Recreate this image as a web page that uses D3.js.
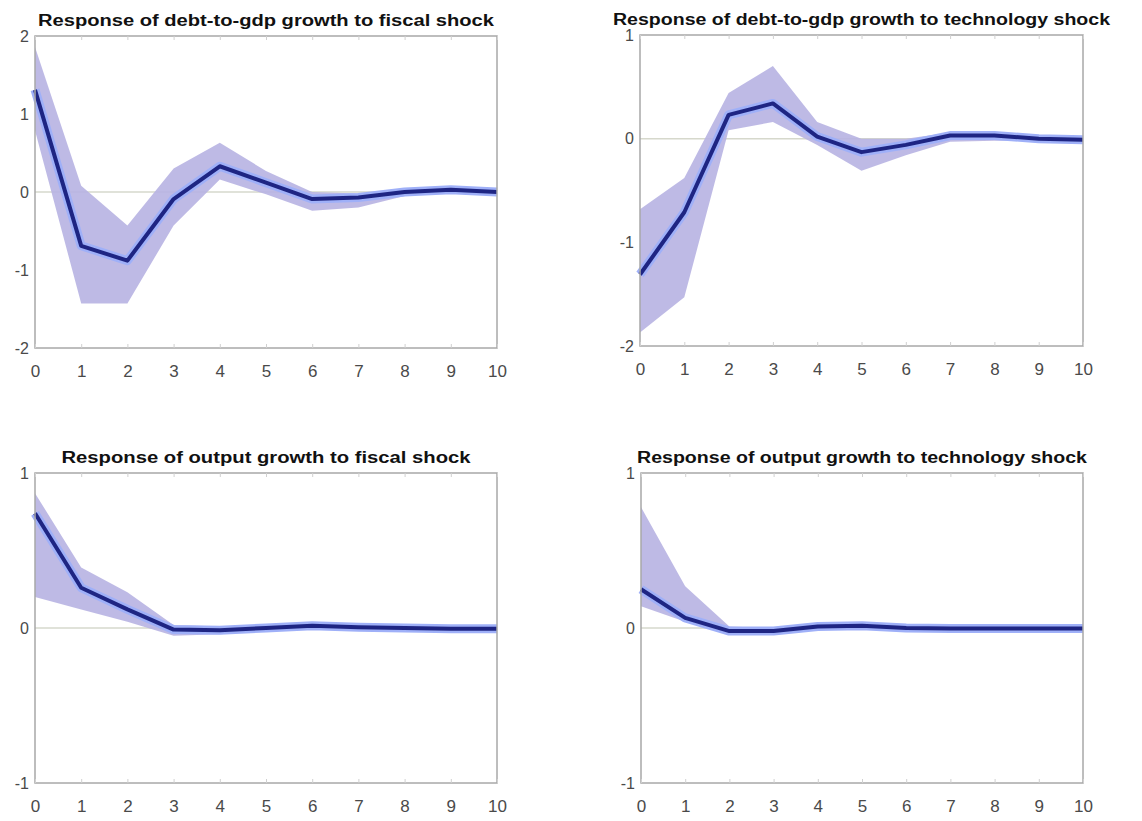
<!DOCTYPE html>
<html>
<head>
<meta charset="utf-8">
<script src="https://cdn.jsdelivr.net/npm/d3@7"></script>
<style>
  body { margin: 0; background: #fff; }
  svg { display: block; }
</style>
</head>
<body>
<script>
// horizons on the x axis
var horizons = [0, 1, 2, 3, 4, 5, 6, 7, 8, 9, 10];

// debt-to-gdp growth, fiscal shock
var debtFiscalMed = [1.31, -0.69, -0.88, -0.09, 0.33, 0.12, -0.09, -0.07, 0.0, 0.03, 0.0];
var debtFiscalHi  = [1.86, 0.08, -0.43, 0.30, 0.63, 0.27, 0.0, -0.02, 0.02, 0.04, 0.01];
var debtFiscalLo  = [0.79, -1.43, -1.43, -0.43, 0.16, -0.03, -0.24, -0.20, -0.05, -0.01, -0.01];

// debt-to-gdp growth, technology shock
var debtTechMed = [-1.31, -0.71, 0.23, 0.34, 0.02, -0.13, -0.06, 0.03, 0.03, 0.0, -0.01];
var debtTechHi  = [-0.68, -0.38, 0.44, 0.70, 0.16, 0.0, 0.0, 0.06, 0.06, 0.02, 0.0];
var debtTechLo  = [-1.87, -1.53, 0.08, 0.16, -0.06, -0.31, -0.16, -0.03, -0.02, -0.02, -0.02];

// output growth, fiscal shock
var outFiscalMed = [0.74, 0.26, 0.12, -0.01, -0.015, 0.0, 0.015, 0.005, 0.0, -0.005, -0.005];
var outFiscalHi  = [0.87, 0.39, 0.23, 0.02, 0.01, 0.02, 0.025, 0.01, 0.005, 0.0, 0.0];
var outFiscalLo  = [0.20, 0.12, 0.04, -0.05, -0.04, -0.02, 0.0, -0.005, -0.01, -0.01, -0.01];

// output growth, technology shock
var outTechMed = [0.25, 0.065, -0.02, -0.02, 0.01, 0.015, 0.0, -0.003, -0.003, -0.003, -0.003];
var outTechHi  = [0.78, 0.27, 0.01, 0.0, 0.025, 0.03, 0.01, 0.0, 0.0, 0.0, 0.0];
var outTechLo  = [0.14, 0.04, -0.04, -0.03, -0.005, 0.0, -0.01, -0.01, -0.01, -0.01, -0.01];

var titles = [
    "Response of debt-to-gdp growth to fiscal shock",
    "Response of debt-to-gdp growth to technology shock",
    "Response of output growth to fiscal shock",
    "Response of output growth to technology shock"
];
var yDomains = [[-2, 2], [-2, 1], [-1, 1], [-1, 1]];
var yTickVals = [[-2, -1, 0, 1, 2], [-2, -1, 0, 1], [-1, 0, 1], [-1, 0, 1]];

var panels = [
    {med: debtFiscalMed, hi: debtFiscalHi, lo: debtFiscalLo, box: [35, 497, 36, 348], titleW: 456},
    {med: debtTechMed, hi: debtTechHi, lo: debtTechLo, box: [640, 1083, 35, 346], titleW: 497},
    {med: outFiscalMed, hi: outFiscalHi, lo: outFiscalLo, box: [35, 497, 473, 783], titleW: 409},
    {med: outTechMed, hi: outTechHi, lo: outTechLo, box: [641, 1083, 473, 783], titleW: 450}
];

var tickFont = "Liberation Sans, Arial, sans-serif";

var svg = d3.select("body").append("svg")
    .attr("width", 1142)
    .attr("height", 821);

panels.forEach(function (p, k) {
    var left = p.box[0], right = p.box[1], top = p.box[2], bottom = p.box[3];

    var x = d3.scaleLinear().domain([0, 10]).range([left, right]);
    var y = d3.scaleLinear().domain(yDomains[k]).range([bottom, top]);

    var g = svg.append("g");

    // zero line
    g.append("line")
        .attr("x1", left).attr("x2", right)
        .attr("y1", y(0)).attr("y2", y(0))
        .attr("stroke", "#d6d8cc")
        .attr("stroke-width", 1.5);

    var rows = horizons.map(function (h, i) {
        return {h: h, med: p.med[i], hi: p.hi[i], lo: p.lo[i]};
    });

    // confidence band
    var area = d3.area()
        .x(function (d) { return x(d.h); })
        .y0(function (d) { return y(d.lo); })
        .y1(function (d) { return y(d.hi); });
    g.append("path")
        .datum(rows)
        .attr("d", area)
        .attr("fill", "#b7b2e2")
        .attr("opacity", 0.9);

    var line = d3.line()
        .x(function (d) { return x(d.h); })
        .y(function (d) { return y(d.med); });

    // light halo then the median line
    g.append("path")
        .datum(rows)
        .attr("d", line)
        .attr("fill", "none")
        .attr("stroke", "#9fb0f8")
        .attr("stroke-width", 9)
        .attr("stroke-linejoin", "round");
    g.append("path")
        .datum(rows)
        .attr("d", line)
        .attr("fill", "none")
        .attr("stroke", "#1e2583")
        .attr("stroke-width", 4)
        .attr("stroke-linejoin", "round");

    // frame
    g.append("rect")
        .attr("x", left).attr("y", top)
        .attr("width", right - left).attr("height", bottom - top)
        .attr("fill", "none")
        .attr("stroke", "#a8a8a8")
        .attr("stroke-width", 1.5);

    // axes
    var xAxis = d3.axisBottom(x).tickValues(horizons).tickSize(-4).tickPadding(17);
    g.append("g")
        .attr("transform", "translate(0," + bottom + ")")
        .call(xAxis)
        .call(function (a) {
            a.select(".domain").remove();
            a.selectAll(".tick line").attr("stroke", "#d0d0d0");
            a.selectAll("text").attr("fill", "#4a4a4a")
                .style("font-family", tickFont)
                .style("font-size", "17px");
        });

    var yAxis = d3.axisLeft(y).tickValues(yTickVals[k])
        .tickFormat(function (d) { return String(d); })
        .tickSize(0).tickPadding(6);
    g.append("g")
        .attr("transform", "translate(" + left + ",0)")
        .call(yAxis)
        .call(function (a) {
            a.select(".domain").remove();
            a.selectAll("text").attr("fill", "#4a4a4a")
                .style("font-family", tickFont)
                .style("font-size", "16px");
        });

    // top tick marks
    g.append("g")
        .attr("transform", "translate(0," + top + ")")
        .call(d3.axisTop(x).tickValues(horizons).tickSize(-4).tickFormat(""))
        .call(function (a) {
            a.select(".domain").remove();
            a.selectAll(".tick line").attr("stroke", "#d0d0d0");
        });

    // title
    g.append("text")
        .attr("x", (left + right) / 2)
        .attr("y", top - 10)
        .attr("text-anchor", "middle")
        .attr("textLength", p.titleW)
        .attr("lengthAdjust", "spacingAndGlyphs")
        .style("font-family", tickFont)
        .style("font-weight", "bold")
        .style("font-size", "16px")
        .attr("fill", "#111")
        .text(titles[k]);
});
</script>
</body>
</html>
